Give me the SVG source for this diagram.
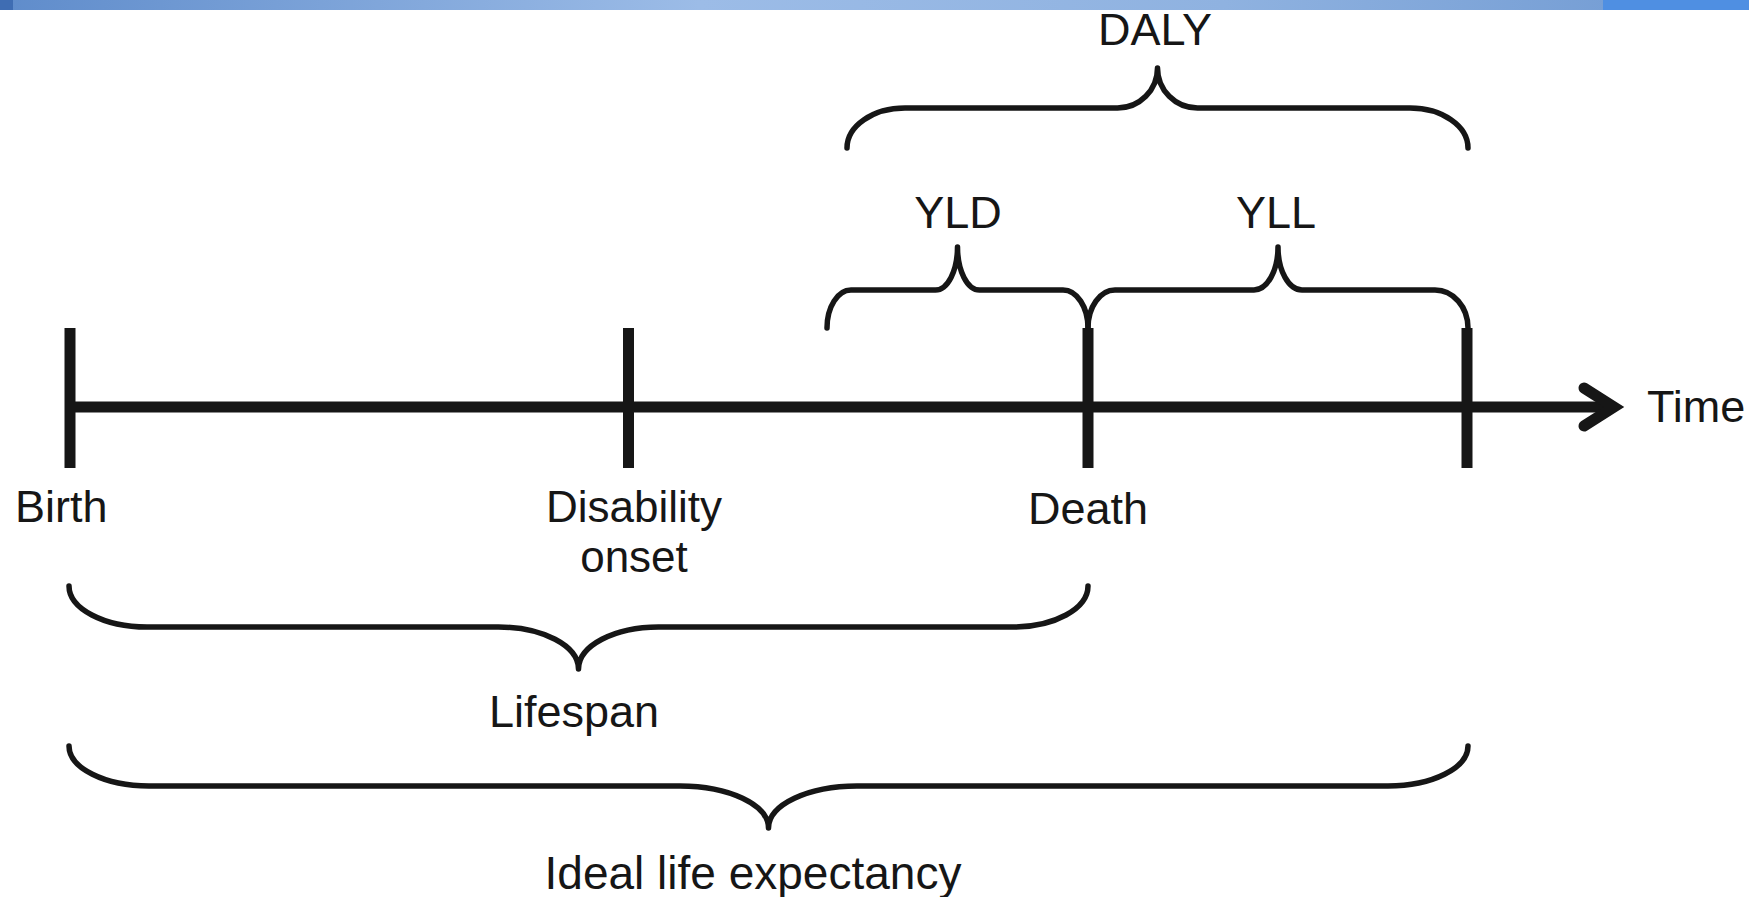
<svg xmlns="http://www.w3.org/2000/svg" width="1749" height="897" viewBox="0 0 1749 897">
  <style>
    .lbl { font-family: "Liberation Sans", Arial, Helvetica, sans-serif; font-size: 45px; fill: #161616; }
    .mid { text-anchor: middle; }
    .axis { stroke: #161616; stroke-width: 11; fill: none; }
    .tick { stroke: #161616; stroke-width: 11; fill: none; }
    .brace { stroke: #161616; stroke-width: 5.5; fill: none; stroke-linecap: round; stroke-linejoin: round; }
  </style>
  <defs>
    <linearGradient id="barGrad" x1="0" y1="0" x2="1" y2="0">
      <stop offset="0" stop-color="#5f8ccb"/>
      <stop offset="0.4" stop-color="#9cbce7"/>
      <stop offset="0.7" stop-color="#8fb2e0"/>
      <stop offset="1" stop-color="#6e98d1"/>
    </linearGradient>
  </defs>
  <rect width="1749" height="897" fill="#ffffff"/>

  <!-- labels above the axis -->
  <g id="daly"><text class="lbl mid" x="1155" y="45">DALY</text></g>
  <g id="yld"><text class="lbl mid" x="958" y="228">YLD</text></g>
  <g id="yll"><text class="lbl mid" x="1276" y="228">YLL</text></g>

  <!-- header band -->
  <g id="header">
    <rect x="0" y="0" width="1749" height="10" fill="url(#barGrad)"/>
    <rect x="0" y="0" width="13" height="10" fill="#3f6db3"/>
    <rect x="1603" y="0" width="146" height="10" fill="#4f8fe2"/>
  </g>

  <!-- timeline, arrowhead and braces -->
  <g id="connectors">
    <line class="axis" x1="70" y1="407" x2="1612" y2="407"/>
    <polyline class="axis" points="1584,388 1614,407 1584,426" stroke-width="12" stroke-linecap="round" stroke-linejoin="miter"/>
    <!-- DALY brace (tip up) -->
    <path class="brace" d="M847,148 A58,40 0 0 1 905,108 H1117.5 A40,40 0 0 0 1157.5,68 A40,40 0 0 0 1197.5,108 H1410 A58,40 0 0 1 1468,148"/>
    <!-- YLD brace -->
    <path class="brace" d="M827,328 A24,38 0 0 1 851,290 H935.5 A22,43 0 0 0 957.5,247 A22,43 0 0 0 979.5,290 H1063 A25,38 0 0 1 1088,328"/>
    <!-- YLL brace -->
    <path class="brace" d="M1088,328 A27,38 0 0 1 1115,290 H1254 A24,43 0 0 0 1278,247 A24,43 0 0 0 1302,290 H1435 A33,38 0 0 1 1468,328"/>
    <!-- Lifespan brace (tip down) -->
    <path class="brace" d="M69,586 A78,41 0 0 0 147,627 H498.5 A80,42 0 0 1 578.5,669 A80,42 0 0 1 658.5,627 H1013 A75,41 0 0 0 1088,586"/>
    <!-- Ideal life expectancy brace -->
    <path class="brace" d="M69,746 A80,40 0 0 0 149,786 H680 A88.5,42 0 0 1 768.5,828 A88.5,42 0 0 1 857,786 H1388 A80,40 0 0 0 1468,746"/>
  </g>

  <!-- points on the axis -->
  <g id="birth">
    <line class="tick" x1="70" y1="328" x2="70" y2="468"/>
    <text class="lbl" x="15" y="522">Birth</text>
  </g>
  <g id="disability-onset">
    <line class="tick" x1="628.5" y1="328" x2="628.5" y2="468"/>
    <text class="lbl mid" x="634" y="522" style="font-size:44px">Disability</text>
    <text class="lbl mid" x="634" y="572" style="font-size:44px">onset</text>
  </g>
  <g id="death">
    <line class="tick" x1="1088" y1="328" x2="1088" y2="468"/>
    <text class="lbl mid" x="1088" y="524">Death</text>
  </g>
  <g id="ideal-end">
    <line class="tick" x1="1467" y1="328" x2="1467" y2="468"/>
  </g>
  <g id="time"><text class="lbl" x="1647" y="422">Time</text></g>

  <!-- span labels below -->
  <g id="lifespan"><text class="lbl mid" x="574" y="727">Lifespan</text></g>
  <g id="ideal-life-expectancy"><text class="lbl mid" x="753" y="889" style="font-size:46px">Ideal life expectancy</text></g>
</svg>
